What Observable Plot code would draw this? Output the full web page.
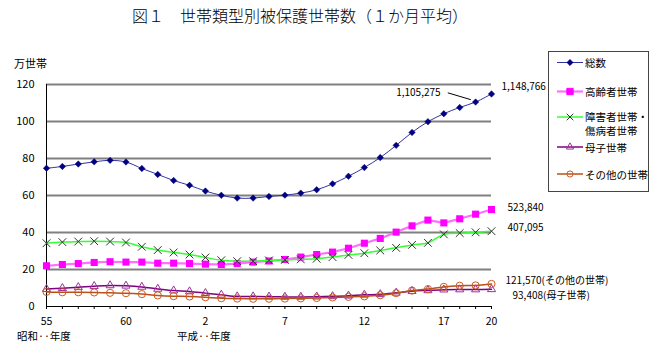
<!DOCTYPE html>
<html><head><meta charset="utf-8">
<script src="https://cdn.jsdelivr.net/npm/d3@7"></script>
<script src="https://cdn.jsdelivr.net/npm/@observablehq/plot@0.6"></script>
<style>
body{margin:0;background:#fff;}
#wrap{position:relative;width:659px;height:342px;font-family:"Noto Sans CJK JP","Noto Sans",sans-serif;}
#wrap svg{position:absolute;left:0;top:0;}
</style></head><body><div id="wrap"></div>
<script>
// fiscal years: 昭和55 (1980) … 平成20 (2008)
const years = [1980,1981,1982,1983,1984,1985,1986,1987,1988,1989,1990,1991,1992,1993,1994,1995,1996,1997,1998,1999,2000,2001,2002,2003,2004,2005,2006,2007,2008];
// values in 万世帯
const total = [74.7,75.7,77.0,78.2,79.0,78.1,74.6,71.4,68.1,65.5,62.4,60.1,58.6,58.6,59.5,60.2,61.3,63.1,66.3,70.4,75.1,80.5,87.1,94.1,99.9,104.2,107.6,110.5,114.9];
const elderly = [22.0,22.7,23.2,23.8,24.2,24.0,24.0,23.4,23.4,23.2,22.9,22.7,23.2,24.0,24.6,25.4,26.7,28.1,29.4,31.5,34.2,36.8,40.2,43.6,46.7,45.2,47.4,49.9,52.4];
const disabled = [34.2,34.8,35.1,35.3,35.1,34.6,32.3,30.5,29.2,28.1,26.5,25.0,24.5,24.5,24.9,25.2,25.5,25.8,26.7,27.9,28.8,30.3,31.7,33.3,34.4,39.0,39.7,40.1,40.7];
const motherChild = [9.4,9.9,10.4,11.0,11.4,11.2,10.6,9.5,8.6,8.1,7.2,6.3,5.4,5.4,5.3,5.2,5.2,5.3,5.5,5.8,6.3,6.6,7.4,8.3,8.7,9.1,9.2,9.2,9.3];
const others = [7.9,7.7,7.7,7.6,7.4,7.2,6.7,6.0,5.6,5.4,5.0,4.5,4.3,4.2,4.2,4.3,4.4,4.6,4.9,5.2,5.5,6.1,7.2,8.6,9.4,10.6,11.2,11.4,12.2];

const yTicks = [0,20,40,60,80,100,120];
const xTickYears = [1980,1985,1990,1995,2000,2005,2008];
const xTickLabels = ["55","60","2","7","12","17","20"];
const seriesNames = ["総数","高齢者世帯","障害者世帯・","傷病者世帯","母子世帯","その他の世帯"];
const endLabels = ["1,148,766","523,840","407,095","93,408(母子世帯)","121,570(その他の世帯)"];
const prevTotalLabel = "1,105,275";
const title = "図１　世帯類型別被保護世帯数（１か月平均）";
const unitLabel = "万世帯";
const eraLabels = ["昭和··年度","平成··年度"];

const rows = vals => years.map((x,i)=>({x, y: vals[i]}));
const last = vals => [{x: years[years.length-1], y: vals[vals.length-1]}];

const FONT = '"Noto Sans CJK JP","Noto Sans",sans-serif';
const C = {
  total:{line:"#3333a0", mark:"#000080"},
  elderly:{line:"#ff70ff", mark:"#ff00ff"},
  disabled:{line:"#33ff33", mark:"#333333"},
  mother:{line:"#800080", mark:"#993399"},
  others:{line:"#b8501a", mark:"#cc5a22"}
};

const chart = Plot.plot({
  width:659, height:342,
  marginLeft:46, marginRight:168, marginTop:84, marginBottom:36,
  x:{domain:[years[0], years[years.length-1]]},
  y:{domain:[yTicks[0], yTicks[yTicks.length-1]]},
  style:{fontFamily:FONT, fontSize:"11px", background:"transparent", color:"#000", overflow:"visible"},
  marks:[
    Plot.ruleY(yTicks.slice(1), {stroke:"#808080", strokeWidth:2}),
    Plot.axisY({ticks:yTicks, tickSize:0, tickPadding:12, label:null, fontSize:11}),
    Plot.axisX({ticks:years, tickSize:3, tickFormat:()=>"", label:null}),
    Plot.axisX({ticks:xTickYears, tickSize:0, tickPadding:11, label:null, fontSize:10.5,
      tickFormat:d=>xTickLabels[xTickYears.indexOf(d)]}),
    Plot.ruleY([yTicks[0]], {stroke:"#000", strokeWidth:1}),
    Plot.ruleX([years[0]], {y1:yTicks[0], y2:yTicks[yTicks.length-1], stroke:"#000", strokeWidth:1}),

    Plot.line(rows(total), {x:"x", y:"y", stroke:C.total.line, strokeWidth:1, curve:"catmull-rom"}),
    Plot.dot(rows(total), {x:"x", y:"y", symbol:"diamond2", r:2.9, fill:C.total.mark, stroke:C.total.mark, strokeWidth:0.5}),

    Plot.line(rows(elderly), {x:"x", y:"y", stroke:C.elderly.line, strokeWidth:2.2}),
    Plot.dot(rows(elderly), {x:"x", y:"y", symbol:"square", r:4, fill:C.elderly.mark, stroke:"none"}),

    Plot.line(rows(disabled), {x:"x", y:"y", stroke:C.disabled.line, strokeWidth:1.5, curve:"catmull-rom"}),
    Plot.dot(rows(disabled), {x:"x", y:"y", symbol:"times", r:3.6, stroke:C.disabled.mark, strokeWidth:1}),

    Plot.line(rows(motherChild), {x:"x", y:"y", stroke:C.mother.line, strokeWidth:1.5, curve:"catmull-rom"}),
    Plot.dot(rows(motherChild), {x:"x", y:"y", symbol:"triangle", r:3, fill:"none", stroke:C.mother.mark, strokeWidth:1}),

    Plot.line(rows(others), {x:"x", y:"y", stroke:C.others.line, strokeWidth:1.5, curve:"catmull-rom"}),
    Plot.dot(rows(others), {x:"x", y:"y", symbol:"circle", r:3.6, fill:"none", stroke:C.others.mark, strokeWidth:1}),

    // annotations
    Plot.text(last(total), {x:"x", y:"y", text:()=>endLabels[0], textAnchor:"start", dx:10, dy:-7, fontSize:10, fill:"#000"}),
    Plot.link([{x:years[27], y:total[27]}], {x1:d=>d.x-1.75, y1:d=>d.y+5, x2:d=>d.x-0.3, y2:d=>d.y+1.3, stroke:"#000", strokeWidth:1}),
    Plot.text([{x:years[27], y:total[27]}], {x:"x", y:"y", text:()=>prevTotalLabel, textAnchor:"end", dx:-35, dy:-9, fontSize:10, fill:"#000"}),
    Plot.text(last(elderly), {x:"x", y:"y", text:()=>endLabels[1], textAnchor:"start", dx:16, dy:-2, fontSize:10, fill:"#000"}),
    Plot.text(last(disabled), {x:"x", y:"y", text:()=>endLabels[2], textAnchor:"start", dx:16, dy:-3, fontSize:10, fill:"#000"}),
    Plot.text(last(others), {x:"x", y:"y", text:()=>endLabels[4], textAnchor:"start", dx:14, dy:-3.5, fontSize:10, fill:"#000"}),
    Plot.text(last(motherChild), {x:"x", y:"y", text:()=>endLabels[3], textAnchor:"start", dx:21, dy:7, fontSize:10, fill:"#000"})
  ]
});
document.getElementById("wrap").appendChild(chart);

// overlay: title, unit, era labels, legend
const ov = d3.select("#wrap").append("svg").attr("width",659).attr("height",342)
  .style("font-family",FONT).style("pointer-events","none");
ov.append("text").attr("x",300).attr("y",14.5).attr("text-anchor","middle").attr("dominant-baseline","central")
  .attr("font-size",16).attr("font-weight",300).text(title);
ov.append("text").attr("x",14).attr("y",63).attr("dominant-baseline","central").attr("font-size",11).text(unitLabel);
ov.append("text").attr("x",17).attr("y",335).attr("dominant-baseline","central").attr("font-size",10.5).text(eraLabels[0]);
ov.append("text").attr("x",177).attr("y",335.5).attr("dominant-baseline","central").attr("font-size",10.5).text(eraLabels[1]);

const lg = ov.append("g");
lg.append("rect").attr("x",548.5).attr("y",51.5).attr("width",100).attr("height",140)
  .attr("fill","#fff").attr("stroke","#444").attr("stroke-width",1);
const items = [
  {y:62.5, c:C.total, sym:d3.symbolDiamond2, size:22, fill:true, w:1},
  {y:91.5, c:C.elderly, sym:d3.symbolSquare, size:40, fill:true, w:2.2},
  {y:117, c:C.disabled, sym:d3.symbolTimes, size:30, fill:false, w:1.5},
  {y:147, c:C.mother, sym:d3.symbolTriangle, size:22, fill:false, w:1.5},
  {y:174, c:C.others, sym:d3.symbolCircle, size:30, fill:false, w:1.5}
];
items.forEach(it=>{
  lg.append("line").attr("x1",557).attr("x2",583).attr("y1",it.y).attr("y2",it.y)
    .attr("stroke",it.c.line).attr("stroke-width",it.w);
  lg.append("path").attr("d",d3.symbol(it.sym,it.size)()).attr("transform",`translate(570,${it.y})`)
    .attr("fill",it.fill?it.c.mark:"none").attr("stroke",it.c.mark).attr("stroke-width",1);
});
const lt = [[62.5,0],[91.5,1],[116.5,2],[130.5,3],[147,4],[174,5]];
lt.forEach(([y,i])=>{
  lg.append("text").attr("x",585).attr("y",y).attr("dominant-baseline","central").attr("font-size",10.5).text(seriesNames[i]);
});
</script>
</body></html>
